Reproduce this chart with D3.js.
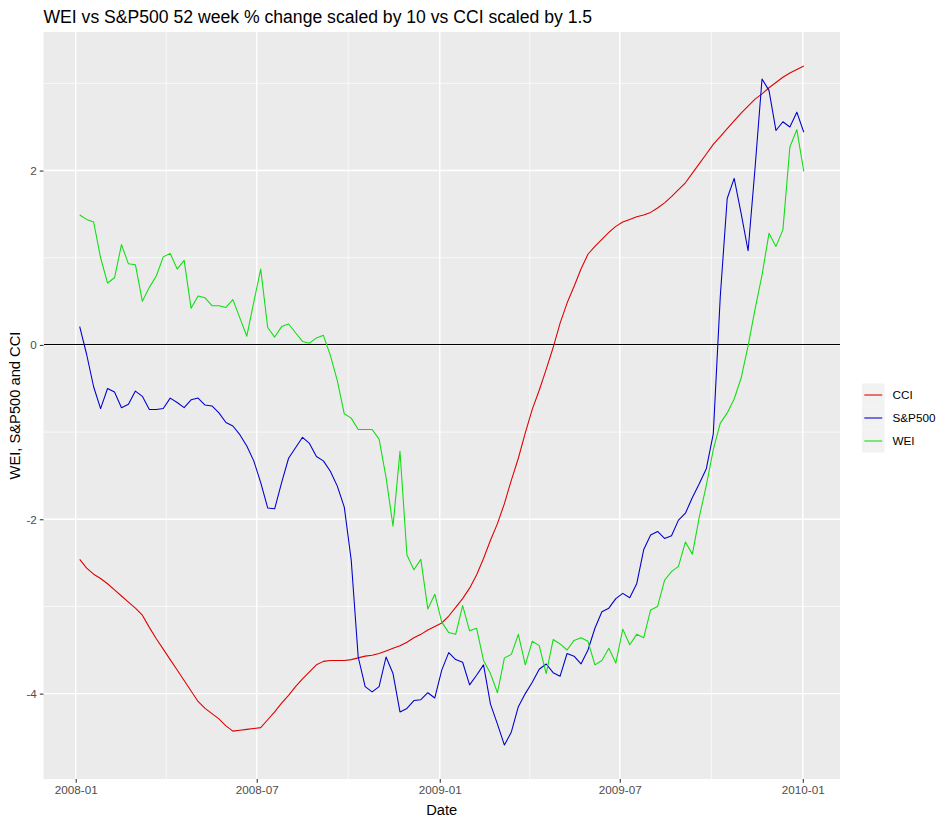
<!DOCTYPE html>
<html>
<head>
<meta charset="utf-8">
<script src="https://cdn.jsdelivr.net/npm/d3@7"></script>
<style>
  body { margin: 0; background: #fff; }
  svg { font-family: "Liberation Sans", Arial, sans-serif; }
</style>
</head>
<body>
<div id="chart"></div>
<script>
// weekly observation dates (Saturdays)
const dates = [
  "2008-01-05","2008-01-12","2008-01-19","2008-01-26","2008-02-02","2008-02-09","2008-02-16","2008-02-23",
  "2008-03-01","2008-03-08","2008-03-15","2008-03-22","2008-03-29","2008-04-05","2008-04-12","2008-04-19",
  "2008-04-26","2008-05-03","2008-05-10","2008-05-17","2008-05-24","2008-05-31","2008-06-07","2008-06-14",
  "2008-06-21","2008-06-28","2008-07-05","2008-07-12","2008-07-19","2008-07-26","2008-08-02","2008-08-09",
  "2008-08-16","2008-08-23","2008-08-30","2008-09-06","2008-09-13","2008-09-20","2008-09-27","2008-10-04",
  "2008-10-11","2008-10-18","2008-10-25","2008-11-01","2008-11-08","2008-11-15","2008-11-22","2008-11-29",
  "2008-12-06","2008-12-13","2008-12-20","2008-12-27","2009-01-03","2009-01-10","2009-01-17","2009-01-24",
  "2009-01-31","2009-02-07","2009-02-14","2009-02-21","2009-02-28","2009-03-07","2009-03-14","2009-03-21",
  "2009-03-28","2009-04-04","2009-04-11","2009-04-18","2009-04-25","2009-05-02","2009-05-09","2009-05-16",
  "2009-05-23","2009-05-30","2009-06-06","2009-06-13","2009-06-20","2009-06-27","2009-07-04","2009-07-11",
  "2009-07-18","2009-07-25","2009-08-01","2009-08-08","2009-08-15","2009-08-22","2009-08-29","2009-09-05",
  "2009-09-12","2009-09-19","2009-09-26","2009-10-03","2009-10-10","2009-10-17","2009-10-24","2009-10-31",
  "2009-11-07","2009-11-14","2009-11-21","2009-11-28","2009-12-05","2009-12-12","2009-12-19","2009-12-26",
  "2010-01-02"
];

// CCI scaled by 1.5
const cci = [
  -2.46,-2.56,-2.63,-2.68,-2.74,-2.81,-2.88,-2.95,-3.02,-3.10,-3.24,-3.37,-3.49,-3.61,-3.73,-3.85,
  -3.97,-4.09,-4.17,-4.23,-4.29,-4.37,-4.43,-4.42,-4.41,-4.40,-4.39,-4.30,-4.21,-4.11,-4.02,-3.92,
  -3.83,-3.75,-3.67,-3.63,-3.62,-3.62,-3.62,-3.61,-3.59,-3.57,-3.56,-3.54,-3.51,-3.48,-3.45,-3.41,
  -3.36,-3.32,-3.27,-3.23,-3.19,-3.11,-3.01,-2.91,-2.79,-2.64,-2.45,-2.24,-2.05,-1.82,-1.55,-1.30,
  -1.01,-0.74,-0.52,-0.28,-0.03,0.25,0.48,0.67,0.87,1.04,1.13,1.21,1.29,1.36,1.41,1.44,
  1.47,1.49,1.52,1.57,1.63,1.70,1.78,1.86,1.97,2.08,2.19,2.30,2.39,2.48,2.57,2.66,
  2.74,2.82,2.88,2.95,3.01,3.07,3.12,3.16,3.20
];

// S&P500 52 week % change scaled by 10
const sp500 = [
  0.21,-0.11,-0.48,-0.73,-0.50,-0.54,-0.72,-0.68,-0.53,-0.59,-0.74,-0.74,-0.73,-0.61,-0.66,-0.72,
  -0.63,-0.61,-0.69,-0.70,-0.78,-0.89,-0.93,-1.03,-1.16,-1.33,-1.58,-1.87,-1.88,-1.58,-1.30,-1.18,
  -1.06,-1.13,-1.28,-1.33,-1.45,-1.62,-1.86,-2.47,-3.58,-3.92,-3.98,-3.92,-3.58,-3.77,-4.21,-4.17,
  -4.08,-4.07,-3.99,-4.05,-3.73,-3.53,-3.61,-3.64,-3.90,-3.79,-3.67,-4.12,-4.35,-4.59,-4.44,-4.15,
  -4.00,-3.87,-3.72,-3.66,-3.76,-3.80,-3.54,-3.57,-3.66,-3.50,-3.25,-3.06,-3.02,-2.91,-2.85,-2.90,
  -2.74,-2.35,-2.18,-2.14,-2.22,-2.19,-2.01,-1.93,-1.75,-1.59,-1.42,-1.02,0.55,1.68,1.91,1.51,
  1.08,2.03,3.05,2.92,2.46,2.56,2.50,2.67,2.44
];

// WEI 52 week % change scaled by 10
const wei = [
  1.49,1.44,1.41,1.00,0.71,0.77,1.15,0.93,0.92,0.50,0.66,0.79,1.01,1.05,0.87,0.97,
  0.42,0.56,0.54,0.45,0.45,0.43,0.52,0.31,0.10,0.49,0.87,0.20,0.09,0.21,0.24,0.14,
  0.04,0.02,0.08,0.11,-0.12,-0.41,-0.79,-0.84,-0.97,-0.97,-0.97,-1.08,-1.52,-2.08,-1.22,-2.41,
  -2.58,-2.46,-3.03,-2.86,-3.18,-3.30,-3.32,-2.99,-3.28,-3.25,-3.62,-3.77,-3.99,-3.59,-3.55,-3.32,
  -3.67,-3.40,-3.45,-3.77,-3.38,-3.43,-3.50,-3.39,-3.36,-3.40,-3.67,-3.62,-3.48,-3.65,-3.26,-3.44,
  -3.32,-3.36,-3.04,-3.00,-2.70,-2.60,-2.54,-2.26,-2.40,-1.97,-1.61,-1.20,-0.90,-0.78,-0.62,-0.38,
  -0.01,0.41,0.80,1.28,1.13,1.32,2.27,2.47,1.99
];

const seriesNames = ["CCI", "S&P500", "WEI"];
const seriesValues = [cci, sp500, wei];
const seriesColors = ["#dd0000", "#0000cc", "#11dd11"];

const xTicks = ["2008-01-01", "2008-07-01", "2009-01-01", "2009-07-01", "2010-01-01"];
const yTicks = [-4, -2, 0, 2];

const titleText = "WEI vs S&P500 52 week % change scaled by 10 vs CCI scaled by 1.5";
const xTitle = "Date";
const yTitle = "WEI, S&P500 and CCI";

const width = 952, height = 825;
const panel = { left: 43.5, right: 840, top: 32, bottom: 779 };

const parse = d3.utcParse("%Y-%m-%d");
const xDates = dates.map(parse);

const svg = d3.select("#chart")
    .append("svg")
    .attr("width", width)
    .attr("height", height);

// ggplot style 5% expansion on both axes
const xExt = d3.extent(xDates);
const xPad = (xExt[1] - xExt[0]) * 0.05;
const x = d3.scaleUtc()
    .domain([new Date(+xExt[0] - xPad), new Date(+xExt[1] + xPad)])
    .range([panel.left, panel.right]);

const yExt = d3.extent(seriesValues.flat());
const yPad = (yExt[1] - yExt[0]) * 0.05;
const y = d3.scaleLinear()
    .domain([yExt[0] - yPad, yExt[1] + yPad])
    .range([panel.bottom, panel.top]);

// panel background
svg.append("rect")
    .attr("x", panel.left)
    .attr("y", panel.top)
    .attr("width", panel.right - panel.left)
    .attr("height", panel.bottom - panel.top)
    .attr("fill", "#ebebeb");

const grid = svg.append("g");
const xMajor = xTicks.map(parse);
const xMinor = d3.pairs(xMajor).map(([a, b]) => new Date((+a + +b) / 2));
const yMinor = d3.pairs(yTicks).map(([a, b]) => (a + b) / 2).concat([yTicks[yTicks.length - 1] + 1]);

grid.selectAll(".ymin").data(yMinor).enter().append("line")
    .attr("x1", panel.left).attr("x2", panel.right)
    .attr("y1", d => y(d)).attr("y2", d => y(d))
    .attr("stroke", "#fff").attr("stroke-width", 0.7);
grid.selectAll(".xmin").data(xMinor).enter().append("line")
    .attr("y1", panel.top).attr("y2", panel.bottom)
    .attr("x1", d => x(d)).attr("x2", d => x(d))
    .attr("stroke", "#fff").attr("stroke-width", 0.7);
grid.selectAll(".ymaj").data(yTicks).enter().append("line")
    .attr("x1", panel.left).attr("x2", panel.right)
    .attr("y1", d => y(d)).attr("y2", d => y(d))
    .attr("stroke", "#fff").attr("stroke-width", 1.4);
grid.selectAll(".xmaj").data(xMajor).enter().append("line")
    .attr("y1", panel.top).attr("y2", panel.bottom)
    .attr("x1", d => x(d)).attr("x2", d => x(d))
    .attr("stroke", "#fff").attr("stroke-width", 1.4);

// zero reference line
svg.append("line")
    .attr("x1", panel.left).attr("x2", panel.right)
    .attr("y1", y(0)).attr("y2", y(0))
    .attr("stroke", "#000").attr("stroke-width", 1.1)
    .attr("shape-rendering", "crispEdges");

// series lines
const line = d3.line()
    .x((d, i) => x(xDates[i]))
    .y(d => y(d));

svg.selectAll(".series")
    .data(seriesValues)
    .enter()
    .append("path")
    .attr("d", d => line(d))
    .attr("fill", "none")
    .attr("stroke", (d, i) => seriesColors[i])
    .attr("stroke-width", 1.07)
    .attr("stroke-linejoin", "round");

// axes
const xAxis = svg.append("g")
    .attr("transform", `translate(0,${panel.bottom})`)
    .call(d3.axisBottom(x).tickValues(xMajor).tickFormat(d3.utcFormat("%Y-%m")).tickSize(3.7).tickPadding(3));
const yAxis = svg.append("g")
    .attr("transform", `translate(${panel.left},0)`)
    .call(d3.axisLeft(y).tickValues(yTicks).tickFormat(d => d < 0 ? "-" + Math.abs(d) : d).tickSize(3.7).tickPadding(3));

[xAxis, yAxis].forEach(g => {
    g.select(".domain").remove();
    g.selectAll(".tick line").attr("stroke", "#333333").attr("stroke-width", 1.07);
    g.selectAll(".tick text")
        .attr("fill", "#4d4d4d")
        .style("font-size", "11.7px")
        .style("font-family", "'Liberation Sans', Arial, sans-serif");
});

// titles
svg.append("text")
    .attr("x", panel.left)
    .attr("y", 22.5)
    .style("font-size", "17.6px")
    .attr("fill", "#000")
    .text(titleText);

svg.append("text")
    .attr("x", (panel.left + panel.right) / 2)
    .attr("y", 814.5)
    .attr("text-anchor", "middle")
    .style("font-size", "14.7px")
    .text(xTitle);

svg.append("text")
    .attr("transform", `translate(20,${(panel.top + panel.bottom) / 2}) rotate(-90)`)
    .attr("text-anchor", "middle")
    .style("font-size", "14.7px")
    .text(yTitle);

// legend
const keySize = 23;
const legend = svg.append("g").attr("transform", "translate(862,383.5)");
const item = legend.selectAll(".item")
    .data(seriesNames)
    .enter()
    .append("g")
    .attr("transform", (d, i) => `translate(0,${i * keySize})`);

item.append("rect")
    .attr("width", keySize - 0.5)
    .attr("height", keySize)
    .attr("fill", "#f2f2f2");
item.append("line")
    .attr("x1", 2.3).attr("x2", keySize - 2.8)
    .attr("y1", keySize / 2).attr("y2", keySize / 2)
    .attr("stroke", (d, i) => seriesColors[i])
    .attr("stroke-width", 1.07);
item.append("text")
    .attr("x", 30.5)
    .attr("y", keySize / 2)
    .attr("dy", "0.35em")
    .style("font-size", "11.7px")
    .attr("fill", "#000")
    .text(d => d);
</script>
</body>
</html>
